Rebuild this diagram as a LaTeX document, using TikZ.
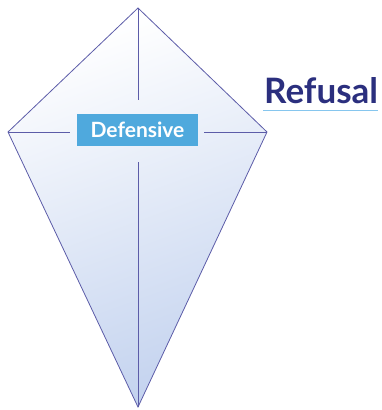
\documentclass[tikz,border=0pt]{standalone}
\usepackage{fontspec}
\setmainfont{Lato}
\definecolor{edge}{HTML}{5C5CA8}
\definecolor{navy}{HTML}{2B2F7E}
\definecolor{boxblue}{HTML}{4FA9DD}
\definecolor{uline}{HTML}{86C6EE}
\definecolor{kitetop}{HTML}{FFFFFF}
\definecolor{kitemid}{HTML}{F1F4FB}
\definecolor{kitebot}{HTML}{C4D3EF}
\tikzset{
  kiteedge/.style={draw=edge, line width=0.8pt},
  labelbox/.style={fill=boxblue, text=white, font=\bfseries\fontsize{21}{24}\selectfont, minimum width=121pt, minimum height=32pt, inner sep=0pt},
  titletext/.style={text=navy, font=\bfseries\fontsize{35}{40}\selectfont, inner sep=0pt, anchor=base west}
}
\begin{document}
\begin{tikzpicture}[x=1pt,y=1pt]
\useasboundingbox (0,0) rectangle (382,-410);
\coordinate (T) at (138,-8);
\coordinate (L) at (8,-132);
\coordinate (R) at (267,-132);
\coordinate (B) at (138,-407);
% kite body
\shade[top color=kitetop, middle color=kitemid, bottom color=kitebot, shading angle=20] (T) -- (R) -- (B) -- (L) -- cycle;
\draw[kiteedge, line join=miter] (T) -- (R) -- (B) -- (L) -- cycle;
% label
\node[labelbox] (def) at (137.5,-130) {Defensive};
% cross lines, interrupted around the label
\coordinate (vt) at (138,-100);
\coordinate (vb) at (138,-162);
\coordinate (hl) at (70,-132);
\coordinate (hr) at (204,-132);
\draw[kiteedge] (T) -- (vt);
\draw[kiteedge] (vb) -- (B);
\draw[kiteedge] (L) -- (hl);
\draw[kiteedge] (hr) -- (R);
% title
\node[titletext] (ref) at (264,-103) {Refusal};
\coordinate (u1) at (263,-110);
\coordinate (u2) at (378,-110);
\draw[uline, line width=0.8pt] (u1) -- (u2);
\end{tikzpicture}
\end{document}
